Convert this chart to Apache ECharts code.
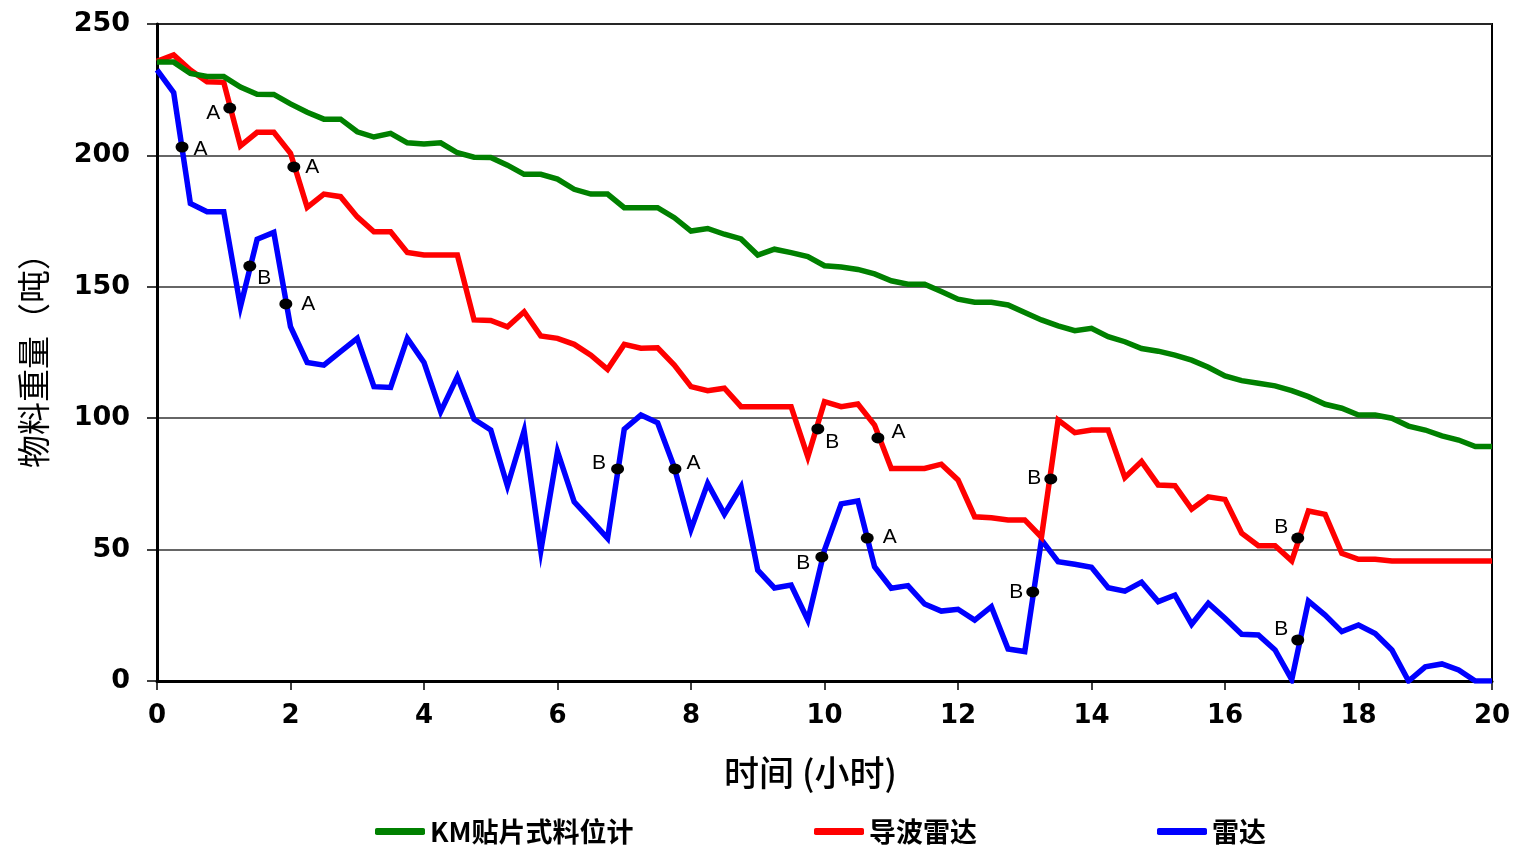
<!DOCTYPE html>
<html>
<head>
<meta charset="utf-8">
<script src="https://cdn.jsdelivr.net/npm/echarts@6/dist/echarts.min.js"></script>
<style>
html,body{margin:0;padding:0;background:#fff;}
#chart{width:1517px;height:847px;}
</style>
</head>
<body>
<div id="chart"></div>
<script>
// ---- data (time step 0.25 h, 0..20 h) ----
const timeStep = 0.25;
const seriesNames = ['KM贴片式料位计', '导波雷达', '雷达'];
const kmValues = [
  235.5,235.5,231.2,230,230,226,223.3,223.2,219.6,216.4,213.8,213.8,209,207,208.4,204.8,
  204.3,204.8,201,199.3,199.2,196.3,192.8,192.8,191,187.1,185.3,185.3,180.1,180.1,180.1,176.3,
  171.2,172.2,170,168.2,162.1,164.3,163,161.5,158,157.5,156.6,154.9,152.3,151,151,148.2,
  145.3,144.1,144.1,143.1,140.2,137.4,135.1,133.3,134.2,131,129.1,126.5,125.5,124,122.1,119.4,
  116.1,114.3,113.3,112.3,110.5,108.2,105.3,103.8,101.2,101.2,100,97,95.5,93.3,91.7,89.2,89.2
];
const gwrValues = [
  235.8,238.2,232.5,228,227.8,203.6,208.8,208.8,200.8,180.2,185.3,184.3,176.6,170.9,170.9,163.1,
  162.1,162.1,162.1,137.4,137.2,134.8,140.5,131.3,130.4,128.1,124,118.6,128.1,126.6,126.8,120.2,
  112,110.5,111.4,104.4,104.4,104.4,104.4,85.3,106.3,104.4,105.4,97.4,80.9,80.9,80.9,82.5,
  76.5,62.5,62.1,61.3,61.3,54.7,99.3,94.5,95.5,95.5,77.4,83.5,74.6,74.3,65.4,70.1,
  69.1,56.2,51.5,51.5,45.7,64.7,63.4,48.6,46.3,46.3,45.7,45.7,45.7,45.7,45.7,45.7,45.7
];
const radarValues = [
  232.5,223.9,181.7,178.6,178.6,142.4,168.1,170.7,134.8,121.2,120.2,125.3,130.4,112,111.7,130.4,
  121.2,102.5,115.8,99.6,95.5,74.2,95.2,49.6,87.3,68.2,61.3,54.3,95.8,101.2,98.3,81.3,
  57.7,75.2,63.5,73.9,42.2,35.4,36.5,23.2,49.8,67.4,68.5,43.5,35.3,36.3,29.3,26.6,
  27.3,23.2,28.3,12.2,11.2,53.7,45.4,44.4,43.3,35.5,34.2,37.6,30.2,32.7,21.6,29.6,
  23.9,17.8,17.5,11.8,0.5,30.4,25.1,18.8,21.3,18.1,11.8,0,5.4,6.5,4.2,0,0
];
// marked points
const markerT    = [1.09, 2.05, 0.375, 1.39, 1.93, 6.9, 7.76, 9.9, 10.8, 9.96, 10.64, 13.39, 13.12, 17.09, 17.09];
const markerV    = [218, 195.6, 203.2, 157.9, 143.5, 80.7, 80.7, 95.9, 92.5, 47.2, 54.4, 76.9, 33.9, 54.4, 15.6];
const markerText = ['A','A','A','B','A','B','A','B','A','B','A','B','B','B','B'];
// axis ticks
const xTicks = [0,2,4,6,8,10,12,14,16,18,20];
const yTicks = [0,50,100,150,200,250];

// ---- styles (not data) ----
const labelPlacement = [
  ['left',[2,5]], ['right',[0,0]], ['right',[0,2]], ['right',[-4,12]], ['right',[4,0]],
  ['left',[0,-6]], ['right',[0,-6]], ['right',[-4,13]], ['right',[2,-6]], ['left',[0,6]],
  ['right',[4,-1]], ['left',[2,-1]], ['left',[2,0]], ['left',[2,-11]], ['left',[2,-11]]
];
const colors = ['#008000', '#ff0000', '#0000ff'];

function pairs(vals){ return vals.map((v,i)=>[i*timeStep, v]); }

const chart = echarts.init(document.getElementById('chart'), null, {renderer:'canvas'});
const lineSeries = [kmValues, gwrValues, radarValues].map((vals, k) => ({
  name: seriesNames[k],
  type: 'line',
  data: pairs(vals),
  showSymbol: false,
  symbol: 'none',
  lineStyle: {color: colors[k], width: 5.5, join: 'miter'},
  itemStyle: {color: colors[k]},
  z: 3 + (2 - k),
  animation: false
}));

const scatterData = markerT.map((t,i)=>({
  value:[t, markerV[i]],
  label:{show:true, formatter: markerText[i], position: labelPlacement[i][0], offset: labelPlacement[i][1],
         distance: 5, color:'#000', fontSize: 21, fontFamily:'Liberation Sans, Arial, sans-serif'}
}));

const legendCommon = {
  bottom: -3, icon: 'roundRect', itemWidth: 50, itemHeight: 7, itemGap: 4,
  textStyle: {fontSize: 27, fontWeight: 'bold', color: '#000', fontFamily: 'Noto Sans CJK SC, sans-serif'}
};

chart.setOption({
  backgroundColor: '#fff',
  animation: false,
  grid: {left: 157, right: 25, top: 24, bottom: 166, show: true, borderColor: '#000', borderWidth: 2, backgroundColor: 'transparent'},
  legend: [
    Object.assign({}, legendCommon, {left: 370, data: [{name: seriesNames[0], itemStyle:{color: colors[0]}}]}),
    Object.assign({}, legendCommon, {left: 809, data: [{name: seriesNames[1], itemStyle:{color: colors[1]}}]}),
    Object.assign({}, legendCommon, {left: 1152, data: [{name: seriesNames[2], itemStyle:{color: colors[2]}}]})
  ],
  xAxis: {
    type: 'value', min: xTicks[0], max: xTicks[xTicks.length-1], interval: xTicks[1]-xTicks[0],
    name: '时间 (小时)', nameLocation: 'middle', nameGap: 74,
    nameTextStyle: {fontSize: 35, color: '#000', fontFamily: 'Noto Sans CJK SC, sans-serif', fontWeight: 500, padding: [0, 28, 0, 0]},
    axisLine: {show: true, onZero: false, lineStyle: {color: '#000', width: 3}},
    axisTick: {show: true, inside: false, length: 9, lineStyle: {color: '#000', width: 1.5}},
    axisLabel: {margin: 22, fontSize: 26, fontWeight: 'bold', color: '#000', fontFamily: 'DejaVu Sans, sans-serif'},
    splitLine: {show: false}
  },
  yAxis: {
    type: 'value', min: yTicks[0], max: yTicks[yTicks.length-1], interval: yTicks[1]-yTicks[0],
    name: '物料重量（吨）', nameLocation: 'middle', nameGap: 107, nameRotate: 90,
    nameTextStyle: {fontSize: 33, color: '#000', fontFamily: 'Noto Sans CJK SC, sans-serif'},
    axisLine: {show: true, lineStyle: {color: '#000', width: 3}},
    axisTick: {show: true, inside: false, length: 10, lineStyle: {color: '#000', width: 1.5}},
    axisLabel: {margin: 27, fontSize: 27, fontWeight: 'bold', color: '#000', fontFamily: 'DejaVu Sans, sans-serif'},
    splitLine: {show: true, lineStyle: {color: '#333', width: 1.5}}
  },
  series: lineSeries.concat([{
    type: 'scatter',
    data: scatterData,
    symbol: 'circle',
    symbolSize: [13, 11],
    itemStyle: {color: '#000', opacity: 1},
    z: 10,
    silent: true
  }])
});
</script>
</body>
</html>
